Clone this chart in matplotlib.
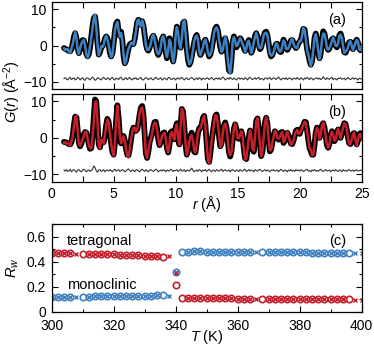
# PDF G(r) de dos muestras (a, b) y Rw vs temperatura (c)
import numpy as np
import matplotlib
matplotlib.use('Agg')
import matplotlib.pyplot as plt
from matplotlib.ticker import MultipleLocator

plt.rcParams['font.family'] = ['Liberation Sans', 'DejaVu Sans']
plt.rcParams['font.size'] = 10
plt.rcParams['mathtext.fontset'] = 'custom'
plt.rcParams['mathtext.rm'] = 'Liberation Sans'
plt.rcParams['mathtext.it'] = 'Liberation Sans:italic'

# malla de r (Å), paso 0.1
r = np.round(np.arange(1.0, 25.01, 0.1), 1)

# G(r) observado, panel (a)
g_obs_a = [
    -0.7, -0.9, -1.1, -1.3, -1.5, -1.6, -1.0, 0.5, 2.4, 3.4,
    2.0, -0.8, -2.1, -1.0, 0.6, 1.5, 1.4, -0.4, -2.3, -3.0,
    -2.4, -0.5, 2.3, 5.3, 7.5, 8.0, 5.2, 0.5, -2.5, -1.8,
    -0.5, -0.2, 0.6, 1.9, 2.5, 2.0, 0.3, -2.0, -3.0, -2.2,
    0.5, 3.8, 6.0, 6.6, 4.0, 2.7, 3.8, 1.5, -2.8, -4.9,
    -4.2, -2.5, -0.8, 0.3, 0.6, 0.5, 0.4, 1.8, 4.2, 6.4,
    7.1, 6.0, 5.8, 6.7, 5.5, 3.0, 0.5, -1.0, -1.4, -0.6,
    0.8, 2.2, 2.7, 2.0, 0.3, -1.7, -2.6, -1.8, 0.0, 1.8,
    2.5, 1.2, -1.8, -3.5, -1.0, 2.0, 0.8, -2.6, -4.4, -2.5,
    2.5, 5.2, 3.8, 0.2, -0.6, 2.4, 6.2, 6.6, 3.5, -0.8,
    -4.0, -5.3, -4.6, -3.0, -1.0, 0.9, 2.3, 2.9, 1.4, -1.2,
    -2.6, -1.9, -0.3, 1.1, 1.6, 0.6, -1.6, -3.0, -2.5, -1.0,
    1.0, 3.2, 4.7, 5.2, 4.2, 2.0, -0.5, -1.7, -0.8, 1.0,
    2.0, 0.5, -3.5, -6.8, -7.2, -4.0, 1.0, 2.5, 1.2, -0.5,
    0.2, 1.5, 2.0, 1.5, 0.5, -0.7, -1.5, -0.7, 0.7, 1.5,
    0.0, -2.0, -1.2, 0.8, 2.6, 3.4, 2.4, 0.2, -1.0, -0.5,
    1.0, 2.6, 3.6, 3.8, 2.8, 0.5, -1.8, -3.0, -2.6, -1.6,
    -0.5, 0.4, 0.5, -0.5, -1.7, -1.8, 0.0, 1.6, 0.8, -0.6,
    -1.2, -0.6, 0.5, 1.4, 1.5, 0.8, -0.2, -0.7, -0.3, 0.6,
    1.1, 1.5, 3.0, 4.6, 4.4, 1.8, -1.0, -2.5, -4.2, -5.3,
    -4.3, -1.5, 2.0, 3.3, 1.6, -1.6, -3.5, -2.2, 1.5, 3.9,
    3.3, 1.5, -0.4, -1.2, -0.8, 0.4, 1.6, 2.0, 1.3, 0.0,
    -0.5, 0.8, 2.8, 3.3, 2.0, -0.2, -1.8, -2.0, -1.2, -0.1,
    0.9, 1.0, 0.0, -1.0, -0.4, 0.9, 1.6, 0.8, -0.8, -1.3,
    -0.3]

# diferencia obs - calc, panel (a)
diff_a = [
    0.1, 0.3, -0.1, -0.3, 0.2, 0.4, -0.2, 0.1, 0.3, -0.3,
    -0.1, 0.4, 0.2, -0.3, 0.1, 0.3, -0.2, -0.4, 0.2, 0.3,
    0.0, -0.3, 0.2, 0.5, 0.1, -0.4, -0.2, 0.3, 0.2, -0.1,
    -0.3, 0.2, 0.4, 0.0, -0.2, 0.3, 0.1, -0.3, 0.2, 0.4,
    -0.1, -0.3, 0.2, 0.1, -0.2, 0.3, 0.4, -0.1, -0.3, 0.2,
    0.3, -0.2, 0.1, 0.4, -0.1, -0.3, 0.2, 0.0, 0.3, -0.2,
    -0.1, 0.2, 0.4, -0.2, -0.3, 0.1, 0.3, 0.2, -0.2, 0.0,
    0.3, -0.1, -0.3, 0.2, 0.4, 0.1, -0.2, 0.1, 0.3, -0.3,
    -0.1, 0.2, 0.0, -0.3, 0.3, 0.4, -0.1, -0.2, 0.2, 0.1,
    -0.3, 0.1, 0.3, -0.1, 0.2, 0.4, 0.0, -0.3, 0.1, 0.3,
    -0.2, -0.1, 0.2, 0.4, 0.1, -0.3, 0.0, 0.2, -0.2, 0.3,
    0.1, -0.3, 0.2, 0.0, -0.1, 0.3, 0.2, -0.2, 0.1, 0.4,
    0.0, -0.3, 0.1, 0.2, -0.1, 0.3, -0.2, 0.1, 0.5, 0.2,
    -0.3, 0.0, 0.2, -0.1, 0.4, 0.1, -0.2, 0.2, 0.0, -0.3,
    0.1, 0.3, -0.1, 0.2, 0.0, -0.2, 0.3, 0.1, -0.3, 0.2,
    0.4, 0.1, -0.2, 0.0, 0.3, -0.1, 0.2, 0.4, -0.2, 0.1,
    0.0, -0.3, 0.2, 0.3, -0.1, 0.1, 0.4, -0.2, 0.0, 0.3,
    0.1, -0.2, 0.2, 0.5, 0.0, -0.3, 0.1, 0.2, -0.1, 0.3,
    -0.2, 0.1, 0.3, 0.0, -0.3, 0.2, 0.1, -0.1, 0.4, 0.0,
    -0.2, 0.3, 0.1, -0.3, 0.2, 0.0, 0.4, 0.1, -0.2, 0.3,
    0.1, -0.3, 0.0, 0.2, 0.3, -0.1, 0.2, -0.2, 0.0, 0.6,
    0.1, -0.2, 0.3, 0.0, -0.1, 0.2, 0.4, -0.2, 0.1, 0.0,
    -0.3, 0.2, 0.1, 0.3, -0.1, 0.0, 0.2, -0.3, 0.1, 0.4,
    0.0, -0.2, 0.1, 0.3, -0.1, 0.2, 0.0, -0.3, 0.2, 0.1,
    -0.1]

# G(r) observado, panel (b)
g_obs_b = [
    -1.1, -1.2, -1.3, -1.5, -1.7, -1.8, -1.2, 0.5, 3.5, 5.8,
    5.6, 2.0, -1.4, -2.3, -1.5, -0.2, 1.0, 1.6, 1.4, 0.0,
    -1.8, -3.0, -2.8, 0.5, 5.5, 10.5, 10.0, 4.0, -1.8, -2.6,
    -0.8, -0.6, -1.2, 0.5, 3.5, 5.2, 4.3, 1.5, -1.5, -3.8,
    -4.6, -1.5, 4.5, 8.9, 5.5, 0.5, -1.5, -0.5, 0.5, -0.8,
    -3.0, -4.6, -4.8, -3.0, -0.5, 1.8, 2.8, 2.5, 1.9, 2.3,
    4.0, 6.4, 8.2, 8.7, 6.5, 1.0, -4.2, -5.5, -3.8, -1.2,
    0.0, 1.2, 3.0, 4.3, 4.4, 2.5, -0.5, -2.0, -1.0, 0.4,
    1.3, 1.5, -0.2, -2.8, -4.0, -2.0, 1.5, 1.8, 0.2, -0.4,
    2.8, 4.0, -0.5, -1.8, 3.2, 7.9, 7.2, 3.0, -1.8, -4.6,
    -3.5, -1.2, 0.6, 1.4, -0.8, -3.8, -4.0, -1.5, 1.2, 2.6,
    2.8, 3.5, 5.4, 6.0, 3.5, -1.5, -5.8, -6.6, -4.2, -1.0,
    1.5, 4.0, 6.0, 6.4, 4.0, 0.5, -2.3, -1.5, 1.0, 3.4,
    4.2, 2.8, -0.5, -3.8, -5.1, -3.8, -0.5, 2.5, 3.7, 2.4,
    0.0, -0.3, 1.2, 1.8, 0.2, -3.0, -5.6, -5.8, -3.0, 0.2,
    2.0, 0.5, -3.0, -3.8, 0.5, 4.6, 5.3, 2.6, -1.8, -5.0,
    -3.8, 0.2, 4.2, 5.5, 3.8, -0.5, -3.7, -3.2, -1.2, 0.6,
    1.8, 1.4, 0.2, -0.5, 0.3, 1.5, 1.6, -1.4, -0.6, 0.8,
    1.4, 0.7, -0.6, -1.6, -1.7, -0.8, 0.6, 1.9, 2.2, 1.3,
    1.1, 2.2, 2.9, 3.4, 4.4, 4.3, 2.2, -0.6, -2.8, -3.6,
    -4.6, -4.6, -1.8, 1.5, 2.8, 1.8, 0.0, 1.2, 3.4, 4.0,
    2.8, 0.6, -2.0, -2.7, -1.6, 0.4, 1.8, 1.0, -0.9, -0.3,
    1.4, 2.3, 1.2, 0.0, 1.2, 3.0, 4.0, 3.8, 2.2, 0.0,
    -1.5, -1.7, -0.4, 1.1, 1.3, -0.3, -1.8, -0.8, 0.9, 1.3,
    0.0]

# diferencia obs - calc, panel (b)
diff_b = [
    0.2, -0.1, 0.3, -0.2, 0.0, 0.4, -0.3, 0.1, 0.3, 0.0,
    -0.4, 0.2, 0.3, -0.1, -0.3, 0.2, 0.4, 0.0, -0.3, 0.1,
    0.2, -0.2, 0.1, 0.4, 1.3, 0.9, 0.0, -0.4, 0.2, 0.3,
    -0.2, 0.0, 0.3, -0.3, 0.1, 0.2, -0.1, 0.3, 0.0, -0.3,
    0.2, 0.4, -0.1, 0.1, 0.3, -0.2, 0.0, 0.3, 0.1, -0.3,
    -0.1, 0.3, 0.5, 0.0, -0.2, 0.2, 0.1, -0.3, 0.2, 0.3,
    -0.1, -0.3, 0.2, 0.4, 0.1, -0.2, 0.3, 0.0, -0.3, 0.2,
    0.3, 0.0, -0.2, 0.1, 0.4, 0.2, -0.3, 0.0, 0.2, -0.1,
    0.3, 0.1, -0.3, 0.2, 0.0, -0.1, 0.4, 0.2, -0.2, 0.1,
    0.0, 0.3, -0.2, 0.1, 0.4, -0.1, 0.0, 0.3, -0.3, 0.1,
    0.2, -0.1, 0.3, 0.7, 0.1, -0.3, 0.0, 0.2, -0.2, 0.3,
    0.1, -0.3, 0.2, 0.0, 0.3, -0.2, 0.1, 0.4, 0.0, -0.3,
    0.2, 0.1, -0.2, 0.3, 0.0, -0.1, 0.2, 0.4, -0.2, 0.1,
    0.3, -0.1, 0.0, 0.2, -0.3, 0.1, 0.3, 0.0, -0.2, 0.2,
    0.1, -0.2, 0.3, 0.0, -0.1, 0.2, 0.4, -0.2, 0.0, 0.3,
    -0.1, 0.2, 0.0, -0.3, 0.3, 0.1, -0.1, 0.2, 0.4, 0.0,
    -0.2, 0.1, 0.3, -0.1, 0.2, 0.0, -0.3, 0.2, 0.1, 0.3,
    -0.1, 0.0, 0.2, -0.3, 0.1, 0.4, 0.0, -0.2, 0.2, 0.1,
    -0.3, 0.2, 0.0, 0.3, -0.1, 0.1, -0.2, 0.3, 0.0, 0.2,
    -0.1, 0.3, 0.1, -0.2, 0.0, 0.2, 0.4, -0.1, 0.1, -0.3,
    0.2, 0.0, 0.3, -0.1, 0.1, -0.2, 0.2, 0.4, 0.0, -0.2,
    0.1, 0.3, -0.1, 0.0, 0.2, -0.3, 0.1, 0.2, -0.1, 0.3,
    0.0, -0.2, 0.2, 0.1, -0.3, 0.3, 0.0, 0.1, -0.2, 0.2,
    0.3, -0.1, 0.0, 0.2, -0.2, 0.1, 0.3, -0.1, 0.0, 0.2,
    0.0]

# Rw vs T (K), paso 2 K
T = list(range(300, 401, 2))
rw_tet = [
    0.470, 0.470, 0.469, 0.468, 0.466, 0.466, 0.465, 0.463, 0.462, 0.461,
    0.459, 0.458, 0.456, 0.455, 0.453, 0.450, 0.448, 0.445, 0.437, 0.445,
    0.310, 0.108, 0.110, 0.109, 0.108, 0.108, 0.107, 0.107, 0.106, 0.106,
    0.105, 0.105, 0.104, 0.104, 0.103, 0.103, 0.102, 0.102, 0.101, 0.101,
    0.100, 0.100, 0.100, 0.099, 0.099, 0.099, 0.098, 0.098, 0.098, 0.097,
    0.097]
rw_mono = [
    0.118, 0.118, 0.119, 0.119, 0.120, 0.120, 0.121, 0.122, 0.122, 0.123,
    0.124, 0.124, 0.125, 0.126, 0.127, 0.128, 0.129, 0.130, 0.133, 0.126,
    0.315, 0.475, 0.482, 0.483, 0.483, 0.482, 0.482, 0.481, 0.481, 0.480,
    0.480, 0.479, 0.479, 0.478, 0.478, 0.477, 0.477, 0.476, 0.476, 0.475,
    0.475, 0.475, 0.474, 0.474, 0.473, 0.473, 0.472, 0.472, 0.471, 0.470,
    0.468]
# temperaturas con circulo (o) y con cruz (x)
T_circ = [300, 302, 304, 306, 310, 312, 314, 316, 318, 320, 322, 324, 326,
          328, 330, 332, 334, 336, 340, 342, 344, 346, 348, 350, 352, 354,
          356, 358, 360, 362, 364, 368, 370, 372, 374, 376, 378, 380, 382,
          384, 386, 388, 390, 392, 394, 396]
T_cross = [300, 302, 304, 306, 308, 312, 314, 316, 318, 320, 322, 324, 326,
           328, 330, 332, 334, 338, 340, 344, 346, 348, 350, 352, 354, 356,
           358, 360, 362, 364, 366, 370, 372, 374, 376, 378, 380, 382, 384,
           386, 388, 390, 392, 394, 398, 400]
rw_tet_circ_340 = 0.215  # el circulo rojo a 340 K queda mas abajo

azul = '#3f80bf'
rojo = '#c41f2b'

fig = plt.figure(figsize=(3.74, 3.47), dpi=100)
ax_a = fig.add_axes([0.138, 0.7435, 0.829, 0.2507])
ax_b = fig.add_axes([0.138, 0.4764, 0.829, 0.2527])
ax_c = fig.add_axes([0.138, 0.1017, 0.829, 0.2519])

# paneles G(r)
for ax, g, d, col, lab, off in [(ax_a, g_obs_a, diff_a, azul, '(a)', -9.2),
                                (ax_b, g_obs_b, diff_b, rojo, '(b)', -9.0)]:
    g = np.array(g)
    d = np.array(d)
    ax.plot(r, g, color='black', lw=4.2, solid_capstyle='round',
            solid_joinstyle='round')
    ax.plot(r, g - d, color=col, lw=1.8)
    ax.plot(r, d + off, color='#333333', lw=0.8)
    ax.set_xlim(0, 25)
    ax.set_ylim(-12, 12)
    ax.xaxis.set_major_locator(MultipleLocator(5))
    ax.xaxis.set_minor_locator(MultipleLocator(2.5))
    ax.yaxis.set_major_locator(MultipleLocator(10))
    ax.yaxis.set_minor_locator(MultipleLocator(5))
    ax.text(23.0, 7.0, lab, ha='center', va='center', fontsize=10.5)

ax_a.tick_params(axis='x', which='both', labelbottom=False)

# panel Rw
idx = {t: i for i, t in enumerate(T)}
tet_o = [rw_tet[idx[t]] if t != 340 else rw_tet_circ_340 for t in T_circ]
mono_o = [rw_mono[idx[t]] for t in T_circ]
tet_x = [rw_tet[idx[t]] for t in T_cross]
mono_x = [rw_mono[idx[t]] for t in T_cross]
ax_c.plot(T_circ, mono_o, 'o', ms=4.6, mfc='none', mec=azul, mew=1.2)
ax_c.plot(T_cross, mono_x, 'x', ms=3.4, color=azul, mew=1.0)
ax_c.plot(T_circ, tet_o, 'o', ms=4.6, mfc='none', mec=rojo, mew=1.2)
ax_c.plot(T_cross, tet_x, 'x', ms=3.4, color=rojo, mew=1.0)
ax_c.set_xlim(300, 400)
ax_c.set_ylim(0, 0.7)
ax_c.xaxis.set_major_locator(MultipleLocator(20))
ax_c.xaxis.set_minor_locator(MultipleLocator(10))
ax_c.yaxis.set_minor_locator(MultipleLocator(0.1))
ax_c.set_yticks([0, 0.2, 0.4, 0.6])
ax_c.set_yticklabels(['0', '0.2', '0.4', '0.6'])
ax_c.text(304.8, 0.57, 'tetragonal', ha='left', va='center', fontsize=10.5)
ax_c.text(305.0, 0.21, 'monoclinic', ha='left', va='center', fontsize=10.5)
ax_c.text(392.4, 0.57, '(c)', ha='center', va='center', fontsize=10.5)

for ax in (ax_a, ax_b, ax_c):
    ax.tick_params(which='both', direction='in', top=True, right=True,
                   labelsize=10, width=0.8)
    ax.tick_params(which='major', length=4.5)
    ax.tick_params(which='minor', length=2.5)
    for s in ax.spines.values():
        s.set_linewidth(0.9)
for ax in (ax_a, ax_b):
    ax.tick_params(axis='x', which='minor', length=4.5)
ax_c.tick_params(axis='x', pad=5)
ax_c.tick_params(axis='y', pad=4)

# etiquetas de ejes
fig.text(0.033, 1 - 92 / 347, '$G$($r$) (Å$^{-2}$)', rotation=90,
         ha='center', va='center', fontsize=10.5)
fig.text(0.552, 1 - 204 / 347, '$r$ (Å)', ha='center', va='center',
         fontsize=10.5)
fig.text(0.033, 1 - 268 / 347, '$R_w$', rotation=90, ha='center',
         va='center', fontsize=10.5)
fig.text(0.552, 1 - 337 / 347, '$T$ (K)', ha='center', va='center',
         fontsize=10.5)

fig.savefig('out.png', dpi=100)
